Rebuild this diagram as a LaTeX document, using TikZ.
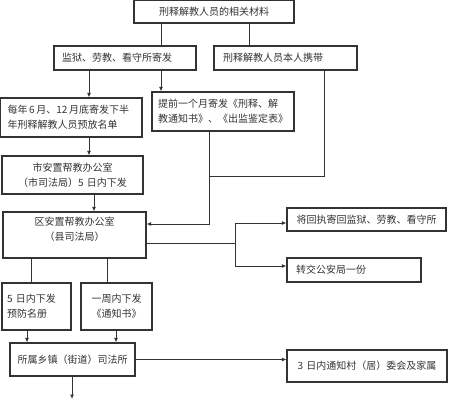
\documentclass[tikz,border=0pt]{standalone}
\usepackage{fontspec}
\newfontfamily\cjk{Noto Sans CJK SC}
\usetikzlibrary{arrows.meta}
\definecolor{ink}{HTML}{333333}
\begin{document}
\begin{tikzpicture}[x=1pt,y=-1pt,
  box/.style={draw=ink, line width=1.1pt, inner ysep=0pt, text=ink, font=\cjk\fontsize{10}{15}\selectfont},
  conn/.style={draw=ink, line width=1pt},
  arr/.style={conn,-{Latex[length=4.5pt,width=4pt]}}]
\useasboundingbox (0,0) rectangle (449,400);
% boxes
\node[box, minimum height=22.5pt, inner xsep=5pt, text width=150pt, align=center] (b1) at (214,11.75) {刑释解教人员的相关材料};
\node[box, minimum height=24pt, inner xsep=8pt, text width=126pt, align=left] (b2) at (125,58) {监狱、劳教、看守所寄发};
\node[box, minimum height=24pt, inner xsep=9pt, text width=125pt, align=left] (b3) at (285.5,58) {刑释解教人员本人携带};
\node[box, minimum height=39pt, inner xsep=7pt, text width=127.5pt, align=left] (b4) at (71.25,117.5) {每年\,6\,月、12\,月底寄发下半\\年刑释解教人员预放名单};
\node[box, minimum height=39pt, inner xsep=6pt, text width=130pt, align=left] (b5) at (223,111.5) {提前一个月寄发《刑释、解\\教通知书》、《出监鉴定表》};
\node[box, minimum height=38pt, inner xsep=5pt, text width=131pt, align=center] (b7) at (72.5,175) {市安置帮教办公室\\（市司法局）5 日内下发};
\node[box, minimum height=46pt, inner xsep=5pt, text width=133pt, align=center] (b8) at (74.5,235) {区安置帮教办公室\\（县司法局）\\[-3pt]\mbox{}};
\node[box, minimum height=23pt, inner xsep=4pt, text width=151pt, align=center] (b9) at (366.5,219.5) {将回执寄回监狱、劳教、看守所};
\node[box, minimum height=24pt, inner xsep=9pt, text width=116pt, align=left] (b10) at (354,270) {转交公安局一份};
\node[box, minimum height=47pt, inner xsep=5pt, text width=59pt, align=left] (b11) at (36.5,306.5) {5 日内下发\\预防名册};
\node[box, minimum height=47pt, inner xsep=4pt, text width=63pt, align=center] (b12) at (116.5,306.5) {一周内下发\\《通知书》};
\node[box, minimum height=33pt, inner xsep=5pt, text width=115pt, align=center] (b13) at (72.5,359.5) {所属乡镇（街道）司法所};
\node[box, minimum height=32pt, inner xsep=5pt, text width=150pt, align=center] (b14) at (367,366) {3 日内通知村（居）委会及家属};
% connectors
\draw[conn] (161,0 |- b1.south) -- (161,0 |- b2.north);
\draw[conn] (249,0 |- b1.south) -- (249,0 |- b3.north);
\draw[arr] (89,0 |- b2.south) -- (89,0 |- b4.north);
\draw[arr] (161,0 |- b2.south) -- (161,0 |- b5.north);
\coordinate (j1) at (209,176);
\draw[conn] (324,0 |- b3.south) |- (j1);
\coordinate (j2) at (209,224);
\draw[arr] (209,0 |- b5.south) -- (j2) -- (j2 -| b8.east);
\draw[arr] (89,0 |- b4.south) -- (89,0 |- b7.north);
\draw[arr] (94,0 |- b7.south) -- (94,0 |- b8.north);
\coordinate (j3) at (235,243);
\coordinate (j4) at (235,223);
\coordinate (j5) at (235,266);
\draw[conn] (j3 -| b8.east) -- (j3);
\draw[conn] (j4) -- (j5);
\draw[arr] (j4) -- (j4 -| b9.west);
\draw[arr] (j5) -- (j5 -| b10.west);
\draw[conn] (31,0 |- b8.south) -- (31,0 |- b11.north);
\draw[conn] (107,0 |- b8.south) -- (107,0 |- b12.north);
\draw[arr] (27,0 |- b11.south) -- (27,0 |- b13.north);
\draw[arr] (116,0 |- b12.south) -- (116,0 |- b13.north);
\draw[arr] (b13.east) -- (b13.east -| b14.west);
\coordinate (out) at (72,399);
\draw[arr] (72,0 |- b13.south) -- (out);
\end{tikzpicture}
\end{document}
